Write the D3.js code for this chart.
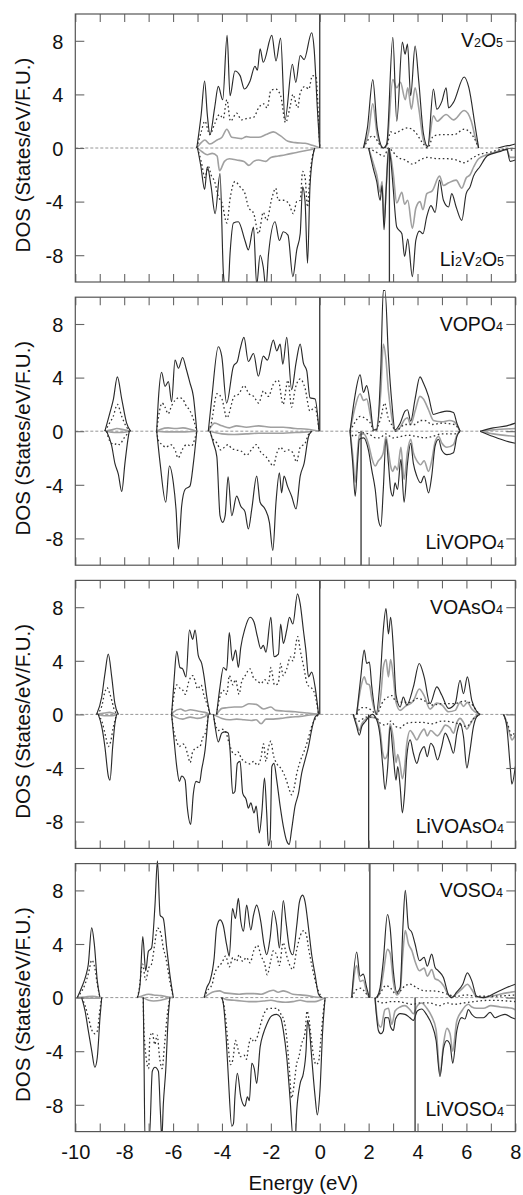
<!DOCTYPE html>
<html>
<head>
<meta charset="utf-8">
<script src="https://cdn.jsdelivr.net/npm/d3@7"></script>
<style>
  body { margin: 0; background: #fff; }
  svg { display: block; font-family: "Liberation Sans", Arial, sans-serif; }
</style>
</head>
<body>
<svg id="chart" width="523" height="1195"></svg>
<script>
// ---- data: [energy (eV), DOS] ----
// panel 1 : V2O5 (up) / Li2V2O5 (down)
var v2o5Tot = [[-10,0],[-5.03,0],[-4.85,2.5],[-4.71,5.0],[-4.6,2.5],[-4.49,1.0],[-4.3,3.0],[-4.15,4.6],[-3.97,3.6],[-3.79,8.4],[-3.67,3.9],[-3.47,5.75],[-3.26,5.4],[-3.08,4.4],[-2.85,5.0],[-2.65,6.1],[-2.55,5.8],[-2.44,7.4],[-2.31,6.4],[-1.96,8.4],[-1.79,6.5],[-1.6,8.2],[-1.42,2.1],[-1.12,6.25],[-0.98,4.9],[-0.8,6.9],[-0.64,6.6],[-0.33,8.6],[-0.23,7.4],[-0.1,3],[0,0],
  [1.79,0],[1.95,1.5],[2.17,5.1],[2.35,1.5],[2.6,0],[2.74,0.3],[2.99,8.25],[3.15,2.0],[3.38,7.9],[3.49,7.0],[3.59,7.75],[3.72,3.9],[3.9,7.6],[4.05,5.0],[4.24,1.1],[4.42,0.1],[4.65,4.4],[4.79,2.9],[5.0,3.5],[5.17,4.5],[5.27,3.0],[5.47,3.4],[5.91,5.3],[6.1,4.5],[6.36,1.6],[6.5,0],[7.3,0],[7.6,0.15],[7.8,0.2],[8,0.3]];
var v2o5Dot = [[-10,0],[-5.03,0],[-4.85,1.2],[-4.7,2.0],[-4.5,1.0],[-4.3,1.8],[-4.1,2.5],[-3.95,2.2],[-3.8,3.6],[-3.65,2.0],[-3.4,2.6],[-3.2,2.1],[-3.0,2.2],[-2.7,2.3],[-2.5,3.0],[-2.3,3.3],[-2.15,3.0],[-2.0,4.3],[-1.8,4.4],[-1.6,3.9],[-1.4,1.9],[-1.2,3.2],[-1.1,4.0],[-0.9,3.0],[-0.8,4.1],[-0.6,4.6],[-0.45,4.4],[-0.3,5.4],[-0.15,5.3],[-0.05,2.0],[0,0],
  [1.79,0],[2.17,0.9],[2.6,0],[2.75,0.2],[2.9,1.2],[3.1,1.1],[3.3,1.3],[3.6,1.5],[3.9,1.2],[4.2,0.4],[4.42,0],[4.65,0.9],[5.0,1.0],[5.5,1.0],[5.9,1.4],[6.3,0.8],[6.5,0],[8,0]];
var v2o5Gry = [[-10,0],[-5.03,0],[-4.85,0.4],[-4.7,0.6],[-4.5,0.3],[-4.2,0.6],[-4.0,0.8],[-3.8,1.4],[-3.6,0.8],[-3.4,0.75],[-3.2,0.7],[-3.0,0.85],[-2.8,0.8],[-2.5,0.8],[-2.2,1.0],[-1.9,1.2],[-1.6,0.9],[-1.3,0.5],[-1.0,0.4],[-0.6,0.35],[-0.3,0.2],[0,0],
  [1.79,0],[2.0,1.2],[2.17,3.3],[2.35,1.0],[2.6,0],[2.74,0.2],[2.99,5.1],[3.15,4.5],[3.3,4.9],[3.5,3.6],[3.6,4.5],[3.75,2.9],[3.9,4.5],[4.05,3.0],[4.24,0.6],[4.42,0.1],[4.65,2.4],[4.8,2.0],[5.17,2.5],[5.47,2.1],[5.91,2.8],[6.2,2.0],[6.36,0.8],[6.5,0],[8,0]];
var li2v2o5Tot = [[-10,0],[-5.0,0],[-4.86,-1.4],[-4.71,-3.1],[-4.6,-1.4],[-4.45,-2.8],[-4.28,-4.9],[-4.08,-1.9],[-3.94,-9.4],[-3.85,-10.5],[-3.75,-10.5],[-3.67,-7.9],[-3.53,-5.6],[-3.33,-5.5],[-3.06,-6.9],[-2.92,-7.6],[-2.71,-5.9],[-2.58,-10.2],[-2.44,-8.0],[-2.31,-8.9],[-2.2,-10.5],[-2.1,-8.0],[-1.83,-5.5],[-1.65,-6.9],[-1.49,-6.25],[-1.3,-6.5],[-1.1,-9.6],[-0.94,-7.6],[-0.8,-6.4],[-0.7,-2.9],[-0.6,-4.0],[-0.5,-8.6],[-0.4,-2.9],[-0.26,-0.4],[-0.2,0],
  [2.0,0],[2.2,-1.6],[2.33,-2.5],[2.47,-3.9],[2.55,-2.8],[2.63,-6.1],[2.72,-3.0],[2.82,-0.1],[2.9,-0.8],[3.0,-2.9],[3.15,-5.9],[3.36,-6.4],[3.47,-8.1],[3.6,-6.8],[3.79,-9.6],[3.93,-6.9],[4.08,-6.2],[4.22,-6.4],[4.38,-5.1],[4.55,-4.3],[4.72,-4.8],[4.9,-2.4],[5.06,-3.9],[5.27,-4.4],[5.4,-3.4],[5.58,-4.4],[5.81,-5.4],[5.99,-3.4],[6.15,-2.9],[6.29,-2.1],[6.55,-1.4],[6.84,-0.6],[7.1,-0.4],[7.4,-0.25],[7.65,-0.1],[7.79,-1.0],[8,-0.9]];
var li2v2o5Dot = [[-10,0],[-5.0,0],[-4.85,-1.0],[-4.7,-2.2],[-4.55,-1.4],[-4.45,-2.0],[-4.3,-2.5],[-4.15,-3.6],[-4.0,-4.1],[-3.8,-5.6],[-3.67,-3.8],[-3.47,-2.5],[-3.26,-2.9],[-3.06,-3.4],[-2.92,-4.4],[-2.7,-4.9],[-2.5,-6.4],[-2.31,-4.8],[-2.17,-5.4],[-1.96,-3.75],[-1.8,-3.0],[-1.7,-3.9],[-1.49,-3.9],[-1.28,-4.1],[-1.08,-4.9],[-0.94,-4.0],[-0.8,-3.9],[-0.7,-1.75],[-0.6,-2.2],[-0.5,-4.4],[-0.4,-2.0],[-0.26,-0.3],[-0.2,0],
  [2.0,0],[2.3,-0.3],[2.63,-0.6],[2.82,0],[3.0,-0.3],[3.2,-0.7],[3.5,-0.9],[3.79,-1.2],[4.1,-0.9],[4.4,-0.7],[4.8,-0.8],[5.2,-0.8],[5.6,-0.9],[5.9,-1.1],[6.2,-0.8],[6.5,-0.5],[7.0,-0.3],[7.5,-0.1],[8,-0.2]];
var li2v2o5Gry = [[-10,0],[-5.0,0],[-4.8,-0.3],[-4.6,-0.5],[-4.4,-0.4],[-4.2,-0.6],[-4.1,-1.7],[-3.9,-1.0],[-3.7,-0.8],[-3.4,-0.9],[-3.1,-1.0],[-2.9,-1.3],[-2.7,-1.0],[-2.5,-0.9],[-2.2,-1.0],[-2.0,-0.7],[-1.7,-0.6],[-1.4,-0.5],[-1.0,-0.35],[-0.6,-0.2],[-0.3,-0.1],[-0.2,0],
  [2.0,0],[2.2,-1.2],[2.33,-2.0],[2.47,-3.3],[2.55,-2.5],[2.63,-5.5],[2.72,-2.8],[2.82,0],[3.0,-1.8],[3.15,-4.1],[3.36,-3.3],[3.47,-4.2],[3.6,-3.9],[3.79,-6.0],[3.93,-4.5],[4.1,-4.0],[4.22,-4.6],[4.38,-3.4],[4.6,-3.2],[4.9,-2.1],[5.06,-2.8],[5.27,-2.6],[5.58,-2.4],[5.81,-3.0],[6.0,-2.2],[6.15,-2.0],[6.3,-1.4],[6.5,-0.8],[6.84,-0.5],[7.2,-0.3],[7.65,-0.1],[7.79,-0.7],[8,-0.7]];

// panel 2 : VOPO4 / LiVOPO4
var vopo4Tot = [[-10,0],[-8.79,0],[-8.58,1.4],[-8.44,2.4],[-8.28,4.05],[-8.1,2.4],[-7.9,0.6],[-7.74,0],
  [-6.67,0],[-6.6,2.4],[-6.47,4.4],[-6.33,3.35],[-6.19,3.7],[-6.06,2.2],[-5.92,5.3],[-5.78,4.7],[-5.61,5.5],[-5.47,4.7],[-5.31,3.6],[-5.17,2.6],[-5.03,0],
  [-4.56,0],[-4.42,2.4],[-4.15,6.3],[-4.01,5.6],[-3.81,2.1],[-3.53,4.85],[-3.37,5.2],[-3.26,6.1],[-3.1,7.0],[-2.92,5.2],[-2.71,5.8],[-2.51,4.1],[-2.31,5.6],[-2.14,5.3],[-1.9,6.8],[-1.76,6.0],[-1.62,6.5],[-1.51,5.0],[-1.35,7.0],[-1.15,3.1],[-0.97,5.1],[-0.8,6.5],[-0.67,5.1],[-0.53,4.5],[-0.4,2.5],[-0.19,2.4],[-0.03,0],
  [1.24,0],[1.42,2.4],[1.65,4.2],[1.79,2.9],[1.92,3.4],[2.06,2.1],[2.2,0.1],[2.33,0.1],[2.5,4.8],[2.6,10.5],[2.67,10.5],[2.81,5.6],[2.95,2.1],[3.08,0.1],[3.29,0.6],[3.49,1.5],[3.59,1.6],[3.72,0.75],[3.9,2.4],[4.1,4.05],[4.24,3.6],[4.45,2.6],[4.65,1.25],[4.92,1.4],[5.2,1.5],[5.47,1.4],[5.61,0.6],[5.74,0],[6.56,0],[7.1,0.25],[7.65,0.4],[8,0.6]];
var vopo4Dot = [[-10,0],[-8.79,0],[-8.6,0.6],[-8.45,1.1],[-8.28,2.0],[-8.1,1.1],[-7.9,0.3],[-7.74,0],
  [-6.67,0],[-6.6,1.0],[-6.45,2.1],[-6.33,1.8],[-6.2,1.3],[-6.06,1.9],[-5.92,2.3],[-5.75,2.5],[-5.6,2.4],[-5.5,2.0],[-5.3,1.5],[-5.15,0.8],[-5.03,0],
  [-4.56,0],[-4.45,0.5],[-4.2,2.8],[-4.0,2.4],[-3.8,1.0],[-3.5,2.6],[-3.3,2.8],[-3.1,3.4],[-2.9,2.8],[-2.7,2.6],[-2.5,2.1],[-2.3,3.0],[-2.1,2.6],[-1.9,3.5],[-1.7,3.8],[-1.5,2.0],[-1.3,3.8],[-1.15,1.8],[-1.0,3.2],[-0.8,3.9],[-0.6,3.2],[-0.4,1.5],[-0.2,1.8],[-0.03,0],
  [1.24,0],[1.42,0.6],[1.65,1.1],[1.9,0.9],[2.1,0.5],[2.2,0],[2.5,1.0],[2.65,2.1],[2.8,1.0],[3.0,0.3],[3.08,0],[3.5,0.5],[3.9,0.5],[4.1,0.8],[4.3,0.8],[4.6,0.5],[5.0,0.6],[5.5,0.5],[5.74,0],[8,0]];
var vopo4Gry = [[-10,0],[-8.79,0],[-8.5,0.1],[-8.3,0.2],[-8.0,0.1],[-7.74,0],
  [-6.67,0],[-6.5,0.15],[-6.2,0.25],[-5.9,0.2],[-5.6,0.25],[-5.3,0.15],[-5.03,0],
  [-4.56,0],[-4.3,0.6],[-4.0,0.4],[-3.7,0.25],[-3.4,0.4],[-3.0,0.3],[-2.5,0.4],[-2.0,0.3],[-1.5,0.3],[-1.0,0.2],[-0.5,0.15],[-0.03,0],
  [1.24,0],[1.42,1.6],[1.65,2.8],[1.79,2.3],[1.92,2.4],[2.06,1.3],[2.2,0],[2.33,0],[2.5,3.0],[2.6,6.5],[2.7,5.5],[2.81,3.0],[2.95,1.0],[3.08,0],[3.29,0.3],[3.49,0.9],[3.59,1.0],[3.72,0.5],[3.9,1.5],[4.1,2.6],[4.24,2.4],[4.45,1.6],[4.65,0.8],[5.0,0.7],[5.3,0.8],[5.5,0.7],[5.74,0],[6.56,0],[7.1,0.1],[8,0.2]];
var livopo4Tot = [[-10,0],[-8.72,0],[-8.51,-1.1],[-8.38,-2.4],[-8.24,-3.2],[-8.1,-4.5],[-7.97,-2.4],[-7.83,-0.4],[-7.79,0],
  [-6.67,0],[-6.53,-2.4],[-6.3,-5.3],[-6.15,-2.6],[-5.99,-3.85],[-5.88,-5.8],[-5.78,-8.8],[-5.65,-5.6],[-5.51,-4.35],[-5.31,-4.1],[-5.17,-2.4],[-5.03,0],
  [-4.49,0],[-4.35,-0.9],[-4.21,-1.9],[-4.08,-6.3],[-3.97,-6.8],[-3.87,-6.3],[-3.75,-3.4],[-3.6,-6.3],[-3.4,-4.85],[-3.23,-5.6],[-3.06,-6.0],[-2.92,-7.3],[-2.78,-5.8],[-2.58,-3.35],[-2.44,-5.3],[-2.24,-5.8],[-2.06,-6.8],[-1.92,-8.9],[-1.79,-5.3],[-1.65,-3.1],[-1.56,-4.6],[-1.46,-3.35],[-1.32,-4.1],[-1.15,-4.85],[-0.97,-5.8],[-0.8,-3.35],[-0.64,-2.4],[-0.46,-0.4],[-0.33,0],
  [1.24,0],[1.35,-2.4],[1.45,-4.85],[1.55,-2.2],[1.62,-0.6],[1.8,-0.5],[1.99,-1.4],[2.13,-2.9],[2.27,-4.35],[2.4,-6.6],[2.5,-7.1],[2.6,-4.35],[2.71,-0.6],[2.81,-2.4],[2.9,-4.35],[2.99,-4.85],[3.08,-3.85],[3.18,-4.35],[3.32,-2.1],[3.45,-5.3],[3.59,-2.4],[3.72,-0.9],[3.83,-2.4],[3.97,-3.35],[4.13,-3.85],[4.27,-3.35],[4.45,-4.6],[4.58,-3.35],[4.72,-1.1],[4.86,-0.6],[4.99,-1.4],[5.2,-1.75],[5.47,-1.6],[5.61,-0.4],[5.74,0],[6.56,0],[7.1,-0.4],[7.65,-0.75],[8,-0.9]];
var livopo4Dot = [[-10,0],[-8.72,0],[-8.6,-0.7],[-8.4,-1.0],[-8.3,-0.9],[-8.2,-1.0],[-8.0,-0.5],[-7.79,0],
  [-6.67,0],[-6.6,-0.7],[-6.45,-1.0],[-6.3,-1.2],[-6.1,-1.0],[-5.9,-1.5],[-5.8,-2.0],[-5.6,-1.3],[-5.45,-1.0],[-5.25,-1.1],[-5.1,-0.5],[-5.03,0],
  [-4.49,0],[-4.4,-0.5],[-4.2,-0.9],[-4.05,-1.4],[-3.9,-1.2],[-3.75,-1.0],[-3.6,-1.3],[-3.4,-1.4],[-3.2,-1.5],[-3.0,-1.8],[-2.8,-1.4],[-2.6,-1.0],[-2.4,-1.6],[-2.2,-1.9],[-2.05,-2.3],[-1.9,-2.6],[-1.75,-1.6],[-1.6,-1.2],[-1.45,-1.5],[-1.3,-1.4],[-1.1,-1.6],[-0.95,-2.3],[-0.8,-1.2],[-0.6,-0.9],[-0.45,-0.2],[-0.33,0],
  [1.24,0],[1.4,-0.4],[1.6,-0.1],[2.0,-0.2],[2.3,-0.5],[2.45,-0.5],[2.7,-0.2],[3.0,-0.5],[3.3,-0.4],[3.6,-0.3],[4.0,-0.4],[4.3,-0.5],[4.6,-0.4],[5.0,-0.2],[5.5,-0.2],[5.74,0],[8,0]];
var livopo4Gry = [[-10,0],[-8.72,0],[-8.4,-0.1],[-8.1,-0.1],[-7.79,0],
  [-6.67,0],[-6.3,-0.05],[-5.6,-0.05],[-5.03,0],
  [-4.49,0],[-4.0,-0.2],[-3.5,-0.25],[-3.0,-0.2],[-2.5,-0.15],[-2.0,-0.15],[-1.5,-0.15],[-1.0,-0.1],[-0.5,-0.05],[-0.33,0],
  [1.24,0],[1.35,-1.8],[1.45,-3.8],[1.55,-1.5],[1.62,-0.3],[1.8,-0.2],[2.0,-1.0],[2.13,-2.0],[2.27,-2.6],[2.4,-2.2],[2.5,-2.0],[2.6,-1.6],[2.71,-0.4],[2.81,-1.5],[2.9,-2.6],[2.99,-3.0],[3.08,-2.6],[3.18,-2.9],[3.32,-1.2],[3.45,-3.6],[3.59,-1.5],[3.72,-0.6],[3.83,-1.6],[3.97,-2.2],[4.13,-2.5],[4.27,-2.2],[4.45,-3.0],[4.58,-2.2],[4.72,-0.8],[4.86,-0.4],[5.0,-0.9],[5.2,-1.2],[5.47,-1.0],[5.61,-0.3],[5.74,0],[6.56,0],[7.1,-0.2],[8,-0.4]];

// panel 3 : VOAsO4 / LiVOAsO4
var voaso4Tot = [[-10,0],[-9.13,0],[-8.92,1.3],[-8.79,3.0],[-8.65,4.5],[-8.51,2.8],[-8.38,0.8],[-8.24,0],
  [-6.06,0],[-5.96,2.55],[-5.85,4.7],[-5.72,3.5],[-5.61,3.4],[-5.47,2.8],[-5.33,6.3],[-5.2,5.6],[-5.1,6.3],[-4.97,4.4],[-4.83,3.8],[-4.73,2.8],[-4.62,1.3],[-4.49,0],
  [-4.22,0],[-4.08,2.05],[-3.94,3.5],[-3.81,3.3],[-3.7,6.1],[-3.57,4.0],[-3.44,4.8],[-3.33,3.5],[-3.23,5.0],[-3.06,6.4],[-2.85,7.25],[-2.69,6.9],[-2.55,5.8],[-2.41,4.9],[-2.31,5.15],[-2.2,4.65],[-2.0,7.25],[-1.87,4.3],[-1.69,4.5],[-1.6,6.75],[-1.49,5.3],[-1.35,6.3],[-1.24,7.25],[-1.1,6.75],[-0.91,9.0],[-0.8,8.25],[-0.67,6.3],[-0.56,4.65],[-0.46,2.8],[-0.33,3.15],[-0.19,2.05],[-0.05,0],
  [1.51,0],[1.68,2.8],[1.82,4.8],[1.92,3.8],[2.03,3.9],[2.13,2.05],[2.31,0.05],[2.47,2.55],[2.6,6.3],[2.71,7.9],[2.81,6.0],[2.9,7.25],[3.01,5.0],[3.12,1.45],[3.29,0.55],[3.42,1.3],[3.56,0.7],[3.83,2.05],[4.07,3.8],[4.27,2.8],[4.51,0.8],[4.79,2.05],[4.99,1.45],[5.27,0.45],[5.54,0.8],[5.74,2.55],[5.88,1.55],[6.04,2.8],[6.22,1.05],[6.43,0.2],[6.56,0],[8,0]];
var voaso4Dot = [[-10,0],[-9.13,0],[-8.92,0.6],[-8.8,1.6],[-8.7,2.0],[-8.6,1.6],[-8.5,1.0],[-8.4,0.3],[-8.24,0],
  [-6.06,0],[-5.96,1.5],[-5.85,2.2],[-5.75,2.0],[-5.6,1.8],[-5.5,1.5],[-5.35,2.5],[-5.2,2.9],[-5.1,2.5],[-5.0,1.9],[-4.85,2.2],[-4.75,1.5],[-4.6,0.7],[-4.49,0],
  [-4.22,0],[-4.1,1.2],[-3.95,1.8],[-3.8,1.5],[-3.7,2.9],[-3.55,2.2],[-3.45,2.6],[-3.3,1.5],[-3.2,2.4],[-3.05,2.9],[-2.85,3.4],[-2.7,2.7],[-2.55,2.5],[-2.4,2.3],[-2.25,2.6],[-2.1,2.3],[-2.0,3.5],[-1.85,2.2],[-1.7,2.3],[-1.6,3.8],[-1.5,2.9],[-1.35,3.4],[-1.2,4.3],[-1.1,4.0],[-0.9,5.8],[-0.8,4.8],[-0.65,3.5],[-0.5,2.2],[-0.35,2.0],[-0.2,1.5],[-0.05,0],
  [1.51,0],[1.7,0.5],[1.9,0.5],[2.13,0.3],[2.31,0],[2.6,1.0],[2.8,1.3],[2.95,1.4],[3.1,1.0],[3.4,0.9],[3.7,0.9],[4.0,1.2],[4.3,1.0],[4.6,0.7],[5.0,0.8],[5.5,0.8],[5.9,1.0],[6.2,0.8],[6.4,0.3],[6.56,0],[8,0]];
var voaso4Gry = [[-10,0],[-9.13,0],[-8.8,0.1],[-8.6,0.15],[-8.4,0.05],[-8.24,0],
  [-6.06,0],[-6.0,0.15],[-5.7,0.4],[-5.5,0.25],[-5.3,0.35],[-5.0,0.25],[-4.7,0.15],[-4.49,0],
  [-4.22,0],[-4.0,0.45],[-3.8,0.5],[-3.5,0.55],[-3.2,0.55],[-2.9,0.8],[-2.6,0.75],[-2.3,0.4],[-2.0,0.55],[-1.8,0.3],[-1.5,0.25],[-1.0,0.2],[-0.5,0.1],[-0.05,0],
  [1.51,0],[1.68,2.0],[1.82,2.8],[1.92,2.3],[2.03,2.2],[2.13,1.2],[2.31,0],[2.5,1.5],[2.6,3.5],[2.71,4.1],[2.81,2.8],[2.9,4.1],[3.01,2.8],[3.12,0.9],[3.29,0.3],[3.5,0.6],[3.83,1.0],[4.07,1.9],[4.27,1.4],[4.51,0.4],[4.79,0.85],[5.0,0.7],[5.27,0.2],[5.54,0.3],[5.74,0.9],[5.88,0.6],[6.04,0.9],[6.22,0.4],[6.43,0.1],[6.56,0],[8,0]];
var livoaso4Tot = [[-10,0],[-9.06,0],[-8.92,-0.9],[-8.79,-2.4],[-8.65,-4.6],[-8.58,-4.9],[-8.47,-2.4],[-8.38,-0.7],[-8.31,0],
  [-6.06,0],[-5.96,-1.9],[-5.85,-3.9],[-5.74,-5.0],[-5.65,-4.6],[-5.51,-4.9],[-5.42,-6.9],[-5.28,-8.2],[-5.17,-5.9],[-5.06,-5.0],[-4.92,-5.1],[-4.83,-4.1],[-4.69,-2.65],[-4.56,0],
  [-4.35,0],[-4.28,-0.9],[-4.15,-2.05],[-4.01,-1.4],[-3.87,-1.3],[-3.74,-1.4],[-3.67,-2.65],[-3.56,-5.9],[-3.47,-5.75],[-3.37,-3.65],[-3.26,-3.5],[-3.15,-5.9],[-3.01,-6.35],[-2.92,-7.0],[-2.82,-6.6],[-2.69,-7.35],[-2.6,-6.85],[-2.47,-8.85],[-2.37,-7.35],[-2.26,-4.75],[-2.17,-7.35],[-2.1,-9.8],[-2.03,-9.3],[-1.96,-3.9],[-1.87,-3.65],[-1.76,-4.9],[-1.62,-6.85],[-1.49,-8.35],[-1.35,-9.45],[-1.25,-9.7],[-1.15,-8.6],[-1.01,-6.85],[-0.87,-5.9],[-0.74,-4.4],[-0.6,-3.4],[-0.46,-2.4],[-0.33,-1.15],[-0.19,-0.2],[-0.05,0],
  [1.37,0],[1.51,-0.9],[1.62,-1.55],[1.72,-0.9],[1.86,-0.55],[2.0,-0.2],[2.15,0],[2.33,-0.4],[2.47,-1.65],[2.58,-3.9],[2.67,-5.6],[2.78,-3.9],[2.88,-0.9],[3.01,-3.15],[3.12,-4.9],[3.19,-3.9],[3.29,-5.4],[3.38,-7.35],[3.47,-5.9],[3.56,-3.15],[3.7,-1.9],[3.83,-2.9],[3.97,-3.65],[4.1,-2.9],[4.27,-2.4],[4.4,-3.15],[4.54,-2.15],[4.65,-2.4],[4.82,-3.4],[4.99,-2.4],[5.13,-1.4],[5.33,-2.15],[5.47,-2.9],[5.61,-1.4],[5.74,-0.65],[5.88,-1.65],[6.02,-4.0],[6.13,-2.9],[6.29,-0.9],[6.43,-0.15],[6.56,0],[7.52,0],[7.65,-0.9],[7.79,-3.85],[7.86,-5.2],[8,-3.9]];
var livoaso4Dot = [[-10,0],[-9.06,0],[-8.9,-0.6],[-8.75,-1.7],[-8.65,-2.4],[-8.55,-2.0],[-8.45,-1.0],[-8.31,0],
  [-6.06,0],[-6.0,-0.9],[-5.85,-2.0],[-5.75,-2.4],[-5.6,-2.2],[-5.5,-2.4],[-5.4,-3.0],[-5.3,-3.6],[-5.2,-2.8],[-5.05,-2.5],[-4.9,-2.4],[-4.8,-1.8],[-4.65,-1.2],[-4.56,0],
  [-4.35,0],[-4.3,-0.5],[-4.15,-1.2],[-4.0,-1.1],[-3.85,-1.3],[-3.7,-2.2],[-3.55,-2.9],[-3.45,-3.0],[-3.35,-2.8],[-3.2,-3.3],[-3.0,-3.6],[-2.85,-3.7],[-2.7,-3.5],[-2.55,-3.8],[-2.4,-3.2],[-2.3,-2.2],[-2.2,-3.5],[-2.1,-2.5],[-2.0,-2.0],[-1.9,-3.0],[-1.75,-3.7],[-1.6,-4.0],[-1.45,-4.5],[-1.35,-5.0],[-1.25,-5.6],[-1.15,-6.0],[-1.05,-5.5],[-0.95,-4.5],[-0.8,-3.5],[-0.65,-2.8],[-0.5,-2.0],[-0.35,-1.0],[-0.05,0],
  [1.37,0],[1.6,-0.5],[1.9,-0.2],[2.3,-0.2],[2.5,-0.7],[2.7,-0.8],[2.9,-0.5],[3.1,-0.9],[3.3,-1.0],[3.5,-0.7],[3.8,-0.6],[4.2,-0.6],[4.6,-0.7],[5.0,-0.5],[5.5,-0.6],[6.0,-0.9],[6.3,-0.3],[6.56,0],[7.52,0],[7.7,-0.8],[7.86,-1.6],[8,-1.2]];
var livoaso4Gry = [[-10,0],[-9.06,0],[-8.8,-0.1],[-8.5,-0.1],[-8.31,0],
  [-6.06,0],[-5.9,-0.2],[-5.6,-0.35],[-5.3,-0.2],[-5.0,-0.3],[-4.7,-0.15],[-4.56,0],
  [-4.35,0],[-4.0,-0.3],[-3.7,-0.4],[-3.4,-0.35],[-3.1,-0.4],[-2.8,-0.45],[-2.6,-0.4],[-2.4,-0.7],[-2.2,-0.35],[-1.9,-0.35],[-1.6,-0.3],[-1.2,-0.2],[-0.8,-0.15],[-0.4,-0.05],[-0.05,0],
  [1.37,0],[1.51,-0.7],[1.62,-1.2],[1.72,-0.7],[1.86,-0.4],[2.0,-0.2],[2.33,-0.3],[2.47,-1.2],[2.58,-2.9],[2.67,-3.3],[2.78,-2.9],[2.88,-0.7],[3.01,-1.8],[3.12,-3.6],[3.19,-3.0],[3.29,-3.8],[3.38,-4.8],[3.47,-4.0],[3.56,-2.2],[3.7,-1.2],[3.83,-1.5],[3.97,-1.9],[4.1,-1.5],[4.27,-1.1],[4.4,-1.6],[4.54,-1.2],[4.82,-1.6],[4.99,-1.2],[5.13,-0.8],[5.33,-1.0],[5.47,-1.4],[5.61,-0.6],[5.74,-0.3],[5.88,-0.6],[6.02,-1.1],[6.13,-0.8],[6.29,-0.3],[6.5,0],[7.52,0],[7.65,-0.6],[7.79,-1.6],[7.86,-1.9],[8,-1.5]];

// panel 4 : VOSO4 / LiVOSO4
var voso4Tot = [[-10,0],[-9.92,0],[-9.74,0.75],[-9.56,1.7],[-9.47,2.45],[-9.33,5.2],[-9.22,3.95],[-9.1,1.25],[-8.99,0],
  [-7.46,0],[-7.35,1.0],[-7.24,4.55],[-7.12,2.0],[-7.01,3.45],[-6.88,3.7],[-6.74,6.9],[-6.64,10.2],[-6.53,6.15],[-6.4,5.9],[-6.26,3.7],[-6.13,1.7],[-5.99,0],
  [-4.73,0],[-4.62,0.75],[-4.49,1.25],[-4.32,2.95],[-4.22,5.2],[-4.08,5.8],[-3.95,5.4],[-3.81,3.95],[-3.7,3.1],[-3.57,6.65],[-3.45,5.9],[-3.33,7.4],[-3.23,5.7],[-3.12,4.95],[-2.99,6.9],[-2.82,5.05],[-2.71,6.15],[-2.58,6.9],[-2.41,5.65],[-2.28,3.95],[-2.17,3.2],[-2.03,4.45],[-1.9,6.5],[-1.76,5.4],[-1.65,3.7],[-1.49,7.25],[-1.38,5.65],[-1.24,3.7],[-1.1,3.2],[-0.94,5.4],[-0.83,7.15],[-0.7,7.65],[-0.6,7.15],[-0.46,5.2],[-0.33,3.2],[-0.19,1.7],[-0.05,0.25],[0.08,0],
  [1.31,0],[1.51,3.4],[1.65,1.6],[1.78,1.75],[1.92,0.75],[2.03,0],
  [2.33,0],[2.47,0.75],[2.6,2.75],[2.77,6.2],[2.88,5.2],[3.01,2.0],[3.15,0.4],[3.29,0.75],[3.4,5.2],[3.5,8.0],[3.63,5.2],[3.77,4.85],[3.9,4.0],[4.08,2.75],[4.27,3.0],[4.4,2.35],[4.58,3.25],[4.72,2.25],[4.85,2.0],[5.06,1.5],[5.26,0.25],[5.4,0],[5.6,0.4],[5.85,1.0],[6.04,1.85],[6.22,1.25],[6.42,0.1],[6.7,0],[7.24,0.4],[7.65,0.75],[8,1.0]];
var voso4Dot = [[-10,0],[-9.92,0],[-9.8,0.3],[-9.6,1.0],[-9.45,1.9],[-9.33,2.8],[-9.2,2.2],[-9.1,1.0],[-8.99,0],
  [-7.46,0],[-7.4,0.5],[-7.25,2.5],[-7.12,1.3],[-7.0,2.2],[-6.88,2.5],[-6.75,4.0],[-6.64,5.2],[-6.5,4.8],[-6.4,3.7],[-6.3,3.0],[-6.13,1.2],[-5.99,0],
  [-4.73,0],[-4.6,0.5],[-4.4,1.0],[-4.3,1.8],[-4.15,2.3],[-4.0,2.6],[-3.85,3.1],[-3.7,2.3],[-3.55,3.0],[-3.4,2.7],[-3.3,3.2],[-3.15,2.7],[-3.0,3.0],[-2.85,2.6],[-2.7,3.5],[-2.55,3.9],[-2.4,3.1],[-2.25,2.5],[-2.15,1.7],[-2.0,2.8],[-1.9,3.5],[-1.75,3.1],[-1.65,2.4],[-1.5,4.1],[-1.35,3.1],[-1.2,2.3],[-1.1,2.1],[-0.95,3.5],[-0.8,4.6],[-0.65,5.0],[-0.55,4.7],[-0.45,3.6],[-0.3,2.2],[-0.15,1.0],[0.08,0],
  [1.31,0],[1.51,0.6],[1.7,0.7],[1.85,0.4],[2.03,0],
  [2.33,0],[2.5,0.4],[2.7,0.9],[2.9,0.7],[3.1,0.3],[3.3,0.5],[3.5,0.9],[3.7,1.0],[4.0,0.7],[4.3,0.5],[4.6,0.5],[5.0,0.4],[5.3,0.2],[5.6,0.1],[6.0,0.2],[6.4,0.1],[7.0,0.1],[8,0.2]];
var voso4Gry = [[-10,0],[-9.92,0],[-9.6,0.05],[-9.3,0.1],[-8.99,0],
  [-7.46,0],[-7.3,0.1],[-7.0,0.25],[-6.8,0.2],[-6.5,0.15],[-6.2,0.05],[-5.99,0],
  [-4.73,0],[-4.5,0.3],[-4.3,0.45],[-4.1,0.5],[-3.9,0.35],[-3.6,0.3],[-3.3,0.25],[-3.0,0.3],[-2.7,0.3],[-2.4,0.25],[-2.1,0.45],[-1.9,0.55],[-1.7,0.4],[-1.5,0.5],[-1.3,0.4],[-1.1,0.25],[-0.8,0.2],[-0.5,0.15],[-0.2,0.05],[0.08,0],
  [1.31,0],[1.51,2.4],[1.65,1.2],[1.78,1.3],[1.92,0.4],[2.03,0],
  [2.33,0],[2.47,0.4],[2.6,1.8],[2.77,3.6],[2.88,3.3],[3.01,1.2],[3.15,0.2],[3.29,0.5],[3.4,3.3],[3.5,5.0],[3.63,4.0],[3.77,3.5],[3.9,2.7],[4.08,2.0],[4.27,2.2],[4.4,1.6],[4.58,2.1],[4.72,1.4],[4.85,1.3],[5.06,0.9],[5.26,0.2],[5.4,0],[5.6,0.3],[5.85,0.7],[6.04,1.0],[6.22,0.6],[6.42,0.05],[6.7,0],[7.24,0.2],[7.65,0.35],[8,0.45]];
var livoso4Tot = [[-10,0],[-9.74,0],[-9.6,-1.0],[-9.47,-2.45],[-9.33,-3.95],[-9.2,-5.2],[-9.1,-4.45],[-8.99,-1.5],[-8.92,0],
  [-7.22,0],[-7.19,-4.2],[-7.15,-10.5],[-6.97,-10.5],[-6.85,-5.5],[-6.74,-5.2],[-6.6,-5.5],[-6.52,-8.5],[-6.46,-10.5],[-6.4,-8.0],[-6.3,-5.4],[-6.19,-1.2],[-6.13,0],
  [-4.01,0],[-3.94,-0.5],[-3.83,-2.95],[-3.74,-5.9],[-3.6,-9.6],[-3.53,-9.4],[-3.47,-7.4],[-3.37,-5.65],[-3.23,-7.4],[-3.06,-8.1],[-2.96,-7.4],[-2.88,-7.7],[-2.78,-4.9],[-2.68,-5.3],[-2.58,-6.4],[-2.44,-3.7],[-2.31,-2.7],[-2.17,-2.0],[-1.96,-1.35],[-1.76,-1.25],[-1.6,-1.5],[-1.49,-2.45],[-1.35,-4.45],[-1.21,-7.65],[-1.1,-10.3],[-1.0,-10.3],[-0.94,-8.4],[-0.8,-6.4],[-0.67,-5.65],[-0.56,-3.95],[-0.5,-1.7],[-0.42,-2.45],[-0.33,-4.45],[-0.19,-7.4],[-0.1,-8.75],[0.01,-6.9],[0.12,-2.45],[0.22,0],
  [2.26,0],[2.4,-2.45],[2.5,-2.7],[2.6,-2.5],[2.67,-1.5],[2.81,-1.5],[2.9,-2.2],[3.01,-2.45],[3.1,-1.6],[3.29,-1.2],[3.49,-1.25],[3.69,-1.5],[3.83,-1.7],[3.99,-1.0],[4.17,-0.85],[4.38,-1.3],[4.58,-2.0],[4.76,-3.2],[4.92,-5.9],[5.06,-3.8],[5.2,-3.2],[5.33,-3.5],[5.44,-4.9],[5.61,-2.45],[5.81,-1.5],[5.94,-1.6],[6.08,-0.9],[6.22,-1.25],[6.42,-1.5],[6.7,-1.5],[6.97,-1.1],[7.17,-1.5],[7.38,-1.35],[7.58,-1.25],[7.86,-1.5],[8,-1.6]];
var livoso4Dot = [[-10,0],[-9.74,0],[-9.6,-0.6],[-9.45,-1.6],[-9.33,-2.4],[-9.2,-2.7],[-9.1,-2.5],[-9.0,-1.0],[-8.92,0],
  [-7.22,0],[-7.2,-2.0],[-7.1,-4.5],[-7.0,-5.3],[-6.95,-3.0],[-6.85,-2.6],[-6.75,-3.5],[-6.65,-2.8],[-6.55,-4.5],[-6.45,-5.3],[-6.35,-3.5],[-6.25,-1.5],[-6.13,0],
  [-4.01,0],[-3.94,-0.4],[-3.85,-1.5],[-3.75,-3.5],[-3.65,-5.0],[-3.55,-4.6],[-3.45,-3.2],[-3.35,-3.8],[-3.25,-4.4],[-3.1,-4.3],[-3.0,-4.6],[-2.9,-3.5],[-2.8,-3.0],[-2.7,-3.3],[-2.55,-2.9],[-2.45,-2.2],[-2.3,-1.3],[-2.15,-0.85],[-1.95,-0.8],[-1.75,-0.8],[-1.6,-1.2],[-1.45,-1.8],[-1.35,-3.0],[-1.25,-5.2],[-1.15,-7.5],[-1.05,-6.5],[-0.95,-5.0],[-0.85,-4.4],[-0.75,-3.5],[-0.6,-2.6],[-0.52,-1.0],[-0.45,-1.5],[-0.35,-3.0],[-0.25,-4.4],[-0.15,-5.0],[-0.05,-4.8],[0.05,-3.0],[0.15,-1.0],[0.22,0],
  [2.26,0],[2.4,-0.3],[2.6,-0.4],[2.9,-0.3],[3.2,-0.3],[3.5,-0.4],[3.8,-0.5],[4.1,-0.4],[4.5,-0.4],[4.9,-0.6],[5.2,-0.4],[5.5,-0.5],[5.9,-0.4],[6.3,-0.3],[7.0,-0.2],[8,-0.3]];
var livoso4Gry = [[-10,0],[-9.74,0],[-9.4,-0.05],[-9.1,-0.05],[-8.92,0],
  [-7.22,0],[-7.0,-0.2],[-6.8,-0.25],[-6.5,-0.2],[-6.13,0],
  [-4.01,0],[-3.8,-0.15],[-3.5,-0.2],[-3.2,-0.25],[-2.9,-0.3],[-2.6,-0.3],[-2.3,-0.25],[-2.0,-0.2],[-1.7,-0.3],[-1.4,-0.35],[-1.1,-0.3],[-0.8,-0.2],[-0.5,-0.3],[-0.2,-0.3],[0.0,-0.2],[0.22,0],
  [2.26,0],[2.4,-2.0],[2.5,-2.2],[2.67,-0.9],[2.81,-0.8],[2.95,-2.0],[3.08,-1.0],[3.29,-0.7],[3.49,-0.6],[3.69,-0.9],[3.83,-1.2],[3.99,-0.6],[4.17,-0.4],[4.38,-0.8],[4.58,-1.4],[4.76,-2.4],[4.92,-5.7],[5.06,-3.5],[5.2,-2.3],[5.33,-2.7],[5.44,-4.0],[5.6,-1.8],[5.81,-1.0],[6.08,-0.5],[6.22,-0.7],[6.42,-0.8],[6.7,-0.8],[7.0,-0.6],[7.38,-0.7],[7.86,-0.8],[8,-0.9]];

var upperNames = ['V2O5', 'VOPO4', 'VOAsO4', 'VOSO4'];
var lowerNames = ['Li2V2O5', 'LiVOPO4', 'LiVOAsO4', 'LiVOSO4'];
var fermiUpper = [0, 0, 0, 2.05];      // top half marker
var fermiLower = [2.85, 1.69, 2.0, 3.9]; // bottom half marker
var xTicks = d3.range(-10, 9, 1);
var yTicks = [-8, -4, 0, 4, 8];

var panels = [
  {up: [v2o5Gry, v2o5Dot, v2o5Tot], down: [li2v2o5Gry, li2v2o5Dot, li2v2o5Tot]},
  {up: [vopo4Gry, vopo4Dot, vopo4Tot], down: [livopo4Gry, livopo4Dot, livopo4Tot]},
  {up: [voaso4Gry, voaso4Dot, voaso4Tot], down: [livoaso4Gry, livoaso4Dot, livoaso4Tot]},
  {up: [voso4Gry, voso4Dot, voso4Tot], down: [livoso4Gry, livoso4Dot, livoso4Tot]}
];

// ---- drawing ----
var svg = d3.select('#chart');
var left = 75.3, right = 515.3, panelH = 268, panelStep = 283.2, top0 = 14;
var x = d3.scaleLinear().domain([-10, 8]).range([left, right]);

var styles = [
  {stroke: '#a0a0a0', width: 1.6, dash: null},   // grey projected
  {stroke: '#333', width: 1.3, dash: '1.6,2.6'}, // dotted
  {stroke: '#2a2a2a', width: 1.15, dash: null}   // total
];

// break line where it sits on zero between bands
function withGaps(pts) {
  var out = [];
  pts.forEach(function(p, i) {
    out.push(p);
    var n = pts[i + 1];
    if (n && p[1] === 0 && n[1] === 0) out.push(null);
  });
  return out;
}

function addFormula(sel, name) {
  var parts = name.match(/[A-Za-z]+|\d+/g);
  parts.forEach(function(p) {
    var t = sel.append('tspan').text(p);
    if (/\d/.test(p)) t.attr('font-size', 12.5);
  });
}

panels.forEach(function(pn, i) {
  var top = top0 + i * panelStep, bottom = top + panelH;
  var y = d3.scaleLinear().domain([-10, 10]).range([bottom, top]);
  var g = svg.append('g');

  g.append('clipPath').attr('id', 'clip' + i)
    .append('rect').attr('x', left).attr('y', top - 9).attr('width', right - left).attr('height', panelH + 9);

  // zero line
  g.append('line')
    .attr('x1', left).attr('x2', right).attr('y1', y(0)).attr('y2', y(0))
    .attr('stroke', '#8a8a8a').attr('stroke-width', 0.9).attr('stroke-dasharray', '3,2');

  var line = d3.line()
    .defined(function(d) { return d !== null; })
    .x(function(d) { return x(d[0]); })
    .y(function(d) { return y(d[1]); })
    .curve(d3.curveMonotoneX);

  var plot = g.append('g').attr('clip-path', 'url(#clip' + i + ')');
  [pn.up, pn.down].forEach(function(set) {
    set.forEach(function(series, k) {
      plot.append('path')
        .attr('d', line(withGaps(series)))
        .attr('fill', 'none')
        .attr('stroke', styles[k].stroke)
        .attr('stroke-width', styles[k].width)
        .attr('stroke-dasharray', styles[k].dash)
        .attr('stroke-linejoin', 'round');
    });
  });

  // fermi markers
  g.append('line')
    .attr('x1', x(fermiUpper[i])).attr('x2', x(fermiUpper[i]))
    .attr('y1', top).attr('y2', y(0))
    .attr('stroke', '#333').attr('stroke-width', 1.3);
  g.append('line')
    .attr('x1', x(fermiLower[i])).attr('x2', x(fermiLower[i]))
    .attr('y1', y(0)).attr('y2', bottom)
    .attr('stroke', '#333').attr('stroke-width', 1.3);

  // axes, ticks inward
  var isLast = i === panels.length - 1;
  var axB = g.append('g').attr('transform', 'translate(0,' + bottom + ')')
    .call(d3.axisBottom(x).tickValues(xTicks).tickSize(-8).tickPadding(13)
      .tickFormat(function(d) { return (isLast && d % 2 === 0) ? String(d) : ''; }));
  var axT = g.append('g').attr('transform', 'translate(0,' + top + ')')
    .call(d3.axisTop(x).tickValues(xTicks).tickSize(-8).tickFormat(''));
  var axL = g.append('g').attr('transform', 'translate(' + left + ',0)')
    .call(d3.axisLeft(y).tickValues(yTicks).tickSize(-9).tickPadding(12)
      .tickFormat(function(d) { return String(d); }));
  var axR = g.append('g').attr('transform', 'translate(' + right + ',0)')
    .call(d3.axisRight(y).tickValues(yTicks).tickSize(-9).tickFormat(''));
  [axB, axT, axL, axR].forEach(function(a) {
    a.select('.domain').remove();
    a.selectAll('.tick line').attr('stroke', '#666').attr('stroke-width', 1.1);
    a.selectAll('.tick text').attr('font-size', 20).attr('fill', '#111')
      .attr('font-family', '"Liberation Sans", Arial, sans-serif');
  });
  axL.selectAll('.tick text').attr('dy', '0.36em');

  // frame
  g.append('rect')
    .attr('x', left).attr('y', top).attr('width', right - left).attr('height', panelH)
    .attr('fill', 'none').attr('stroke', '#555').attr('stroke-width', 1.2);

  // compound labels
  var tu = g.append('text').attr('x', 503).attr('y', y(8) + 6.5)
    .attr('text-anchor', 'end').attr('font-size', 19.5).attr('fill', '#111');
  addFormula(tu, upperNames[i]);
  var tl = g.append('text').attr('x', 504).attr('y', y(-8) + 11)
    .attr('text-anchor', 'end').attr('font-size', 19.5).attr('fill', '#111');
  addFormula(tl, lowerNames[i]);

  // y title
  g.append('text')
    .attr('transform', 'translate(29.5,' + (y(0) + 7) + ') rotate(-90)')
    .attr('text-anchor', 'middle').attr('font-size', 20.5).attr('fill', '#111')
    .text('DOS (States/eV/F.U.)');
});

svg.append('text')
  .attr('x', (left + right) / 2 + 8).attr('y', 1190)
  .attr('text-anchor', 'middle').attr('font-size', 20.5).attr('fill', '#111')
  .text('Energy (eV)');
</script>
</body>
</html>
